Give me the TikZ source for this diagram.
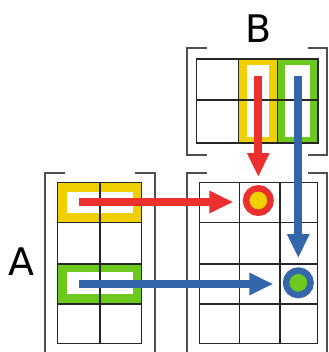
\documentclass[tikz,border=0pt]{standalone}
\usepackage{fontspec}
\setmainfont{DejaVu Sans}
\usetikzlibrary{arrows.meta}
\definecolor{hlyellow}{RGB}{240,208,0}
\definecolor{hlgreen}{RGB}{108,200,28}
\definecolor{arred}{RGB}{236,48,46}
\definecolor{arblue}{RGB}{52,102,172}
\definecolor{brgray}{RGB}{80,80,80}
\begin{document}
\begin{tikzpicture}[x=1bp,y=-1bp,
  gridline/.style={line width=1.3bp,black!85},
  bracket/.style={line width=2bp,brgray},
  hlbox/.style={fill=#1},
  hole/.style={fill=white},
  bigarrow/.style={line width=8bp,draw=#1,-{Triangle[width=21bp,length=24bp,fill=#1]}},
  dot/.style={circle,draw=#1,line width=6.5bp,minimum size=24.5bp,inner sep=0pt},
  lbl/.style={font=\fontsize{38bp}{40bp}\selectfont,inner sep=0pt}]
\useasboundingbox (0,0) rectangle (329,352);
% labels
\node[lbl] (labA) at (21.7,262) {A};
\node[lbl] (labB) at (258.3,29) {B};
% highlight fills in B
\fill[hlbox=hlyellow] (238.3,59) rectangle (277.3,143);
\fill[hole] (246.7,65) rectangle (269.3,136.7);
\fill[hlbox=hlgreen] (277.3,59) rectangle (318,143);
\fill[hole] (285,65) rectangle (310,136.7);
% highlight fills in A
\fill[hlbox=hlyellow] (57.7,182.7) rectangle (141.7,222.7);
\fill[hole] (66.7,191.7) rectangle (133.3,213.3);
\fill[hlbox=hlgreen] (57.7,264) rectangle (141.7,304);
\fill[hole] (66.7,271.7) rectangle (133.3,294);
% grid A
\draw[gridline] (57.7,182.7) rectangle (141.7,343.3);
\draw[gridline] (100,182.7) -- (100,343.3);
\foreach \yy in {222.7,264,304} \draw[gridline] (57.7,\yy) -- (141.7,\yy);
% grid B
\draw[gridline] (196.7,59) rectangle (318,143);
\foreach \xx in {238.3,277.3} \draw[gridline] (\xx,59) -- (\xx,143);
\draw[gridline] (196.7,100) -- (318,100);
% grid C
\draw[gridline] (199.3,182.7) rectangle (317.7,343.3);
\foreach \xx in {239.3,280} \draw[gridline] (\xx,182.7) -- (\xx,343.3);
\foreach \yy in {222.7,264,304} \draw[gridline] (199.3,\yy) -- (317.7,\yy);
% brackets
\draw[bracket] (65,173.3) -- (45,173.3) -- (45,353);
\draw[bracket] (135,173.3) -- (155,173.3) -- (155,353);
\draw[bracket] (206.7,48) -- (186.7,48) -- (186.7,155) -- (206.7,155);
\draw[bracket] (308,48) -- (326.7,48) -- (326.7,155) -- (308,155);
\draw[bracket] (207,172.7) -- (186.7,172.7) -- (186.7,353);
\draw[bracket] (308,172.7) -- (326.7,172.7) -- (326.7,353);
% arrow end points
\coordinate (rvs) at (258.3,76);
\coordinate (rve) at (258.3,177);
\coordinate (bvs) at (298.3,76);
\coordinate (bve) at (298.3,258);
\coordinate (rhs) at (79,202);
\coordinate (rhe) at (233.3,202);
\coordinate (bhs) at (79,284);
\coordinate (bhe) at (273.3,284);
% arrows
\draw[bigarrow=arred] (rvs) -- (rve);
\draw[bigarrow=arblue] (bvs) -- (bve);
\draw[bigarrow=arred] (rhs) -- (rhe);
\draw[bigarrow=arblue] (bhs) -- (bhe);
% result dots
\node[dot=arred,fill=hlyellow] (rdot) at (258.3,200.5) {};
\node[dot=arblue,fill=hlgreen] (bdot) at (298.3,282.8) {};
\end{tikzpicture}
\end{document}
